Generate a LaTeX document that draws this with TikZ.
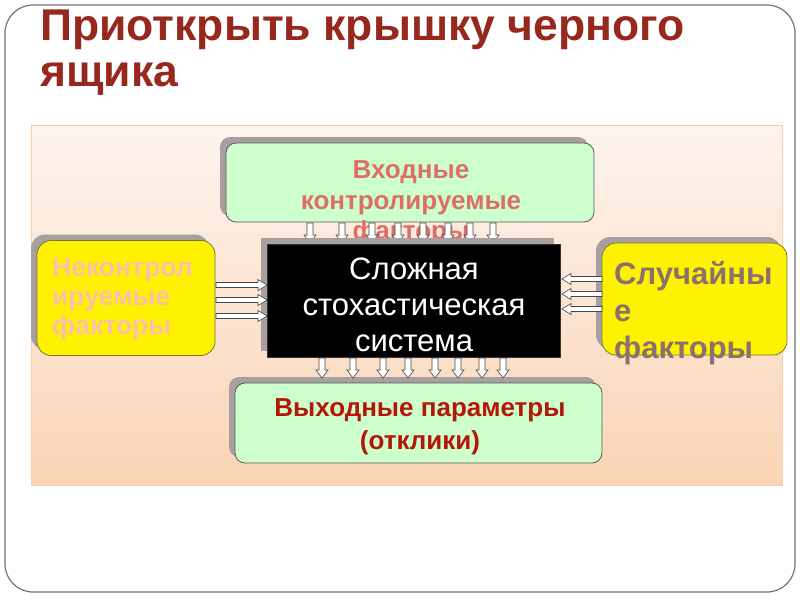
\documentclass[tikz,border=0pt]{standalone}
\usepackage{fontspec}
\setmainfont{Liberation Sans}
\usetikzlibrary{shadows}
\definecolor{titlered}{RGB}{150,40,30}
\definecolor{greenfill}{RGB}{204,255,204}
\definecolor{boxline}{RGB}{90,90,90}
\definecolor{shadowc}{RGB}{168,160,160}
\definecolor{salmon}{RGB}{220,112,104}
\definecolor{pinktext}{RGB}{250,192,170}
\definecolor{browntext}{RGB}{140,112,110}
\definecolor{darkred}{RGB}{180,22,10}
\definecolor{yellowline}{RGB}{120,120,50}
\definecolor{paneltop}{RGB}{253,244,238}
\definecolor{panelbot}{RGB}{250,212,180}
\definecolor{panelline}{RGB}{248,205,175}
\definecolor{arrowline}{RGB}{70,70,70}
\newcommand\varr[3]{\draw[barrow] (#1-3,#2) -- (#1+3,#2) -- (#1+3,#3-8) -- (#1+6,#3-8) -- (#1,#3) -- (#1-6,#3-8) -- (#1-3,#3-8) -- cycle;}
\newcommand\harr[4]{\draw[barrow] (#2,#1-2.5) -- (#3-#4*9,#1-2.5) -- (#3-#4*9,#1-5.5) -- (#3,#1) -- (#3-#4*9,#1+5.5) -- (#3-#4*9,#1+2.5) -- (#2,#1+2.5) -- cycle;}
\begin{document}
\begin{tikzpicture}[x=1pt,y=-1pt,
  greenbox/.style={draw=boxline, line width=0.8pt, fill=greenfill, rounded corners=10pt, inner sep=0pt,
    drop shadow={shadow xshift=-6pt, shadow yshift=6pt, fill=shadowc, opacity=1}},
  yellowbox/.style={draw=yellowline, line width=0.8pt, fill=yellow, rounded corners=14pt, inner sep=0pt,
    drop shadow={shadow xshift=-6pt, shadow yshift=6pt, fill=shadowc, opacity=1}},
  blackbox/.style={fill=black, draw=black!80, inner sep=0pt,
    drop shadow={shadow xshift=-6pt, shadow yshift=6pt, fill=shadowc, opacity=1}},
  barrow/.style={draw=arrowline, fill=white, line width=0.6pt, line join=miter},
  boxtext/.style={inner sep=0pt}]
\useasboundingbox (0,0) rectangle (800,600);
\fill[white] (0,0) rectangle (800,600);
% slide frame
\draw[draw=black!55, line width=1.2pt, rounded corners=28pt] (5,5) rectangle (795,592);
% title
\node[anchor=west, text=titlered, font=\fontsize{44.5}{46}\selectfont\bfseries, align=left, inner sep=0pt] (title) at (40,53)
  {Приоткрыть крышку черного\\ящика};
% panel
\shade[top color=paneltop, bottom color=panelbot, draw=panelline, line width=0.8pt] (31,125) rectangle (782,485);
% top green box
\node[greenbox, minimum width=368pt, minimum height=79pt] (in) at (410,182.5) {};
\node[boxtext, font=\fontsize{26}{30.5}\selectfont\bfseries, text=salmon, align=center] (intext) at (411,203) {Входные\\контролируемые\\факторы};
% left yellow box
\node[yellowbox, minimum width=178pt, minimum height=115pt] (unc) at (126,298) {};
% right yellow box
\node[yellowbox, minimum width=185pt, minimum height=112pt] (rnd) at (694.5,299) {};
% bottom green box
\node[greenbox, minimum width=367pt, minimum height=80pt] (out) at (418.5,423) {};
\node[boxtext, font=\fontsize{26}{33}\selectfont\bfseries, text=darkred, align=center] (outtext) at (420,427) {Выходные параметры\\(отклики)};
% arrows from top
\foreach \x in {310,342,372,398,423,448,470,493} {\varr{\x}{223}{243}}
% black box
\node[blackbox, minimum width=293pt, minimum height=113pt] (sys) at (413.5,300.5) {};
\node[boxtext, text=white, font=\fontsize{31}{36}\selectfont, align=center] (systext) at (414,305)
  {Сложная\\стохастическая\\система};
% left arrows
\foreach \y in {285,300,316} {\harr{\y}{216}{267}{1}}
% right arrows
\foreach \y in {279,294,309} {\harr{\y}{602}{562}{-1}}
% left text
\node[boxtext, font=\fontsize{26.5}{29}\selectfont\bfseries, text=pinktext, align=left, anchor=west] (unctext) at (52,299)
  {Неконтрол\\ируемые\\факторы};
% right text
\node[boxtext, font=\fontsize{31}{37}\selectfont\bfseries, text=browntext, align=left, anchor=west] (rndtext) at (614,313)
  {Случайны\\е\\факторы};
% arrows to bottom
\foreach \x in {322,353,383,408,435,458,482,503} {\varr{\x}{358}{378}}
\end{tikzpicture}
\end{document}
